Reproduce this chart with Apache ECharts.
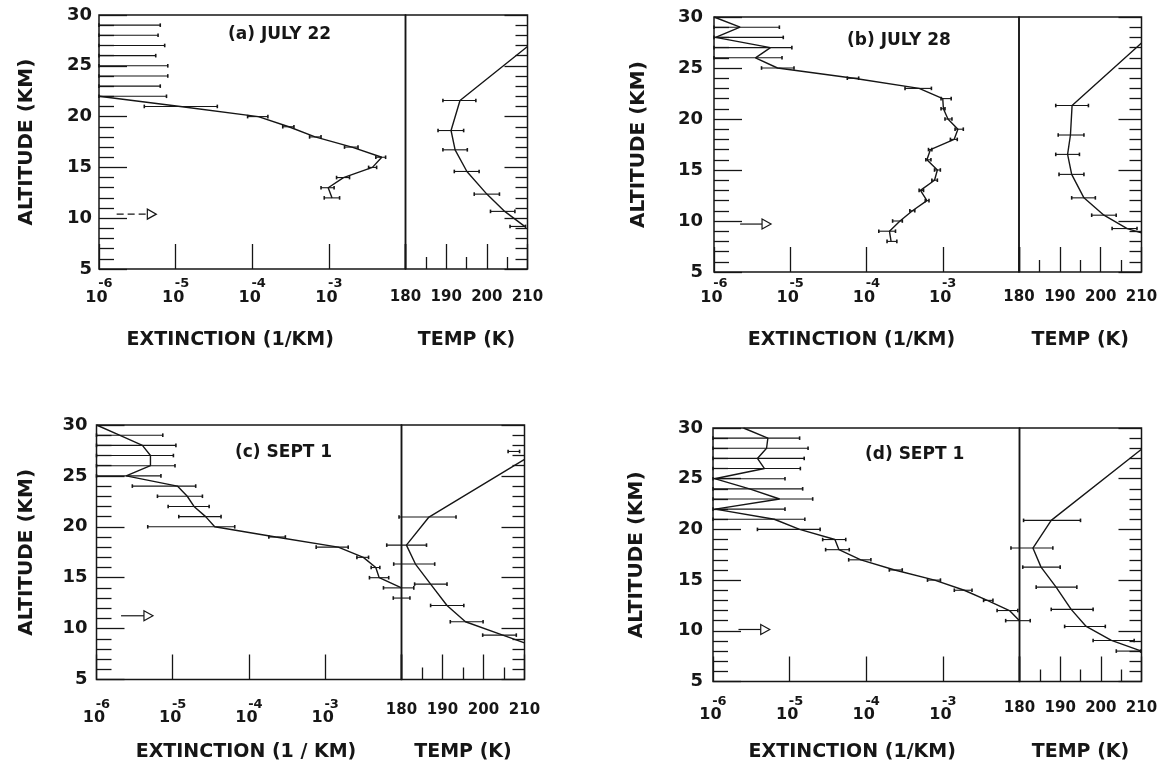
<!DOCTYPE html>
<html><head><meta charset="utf-8">
<script src="https://cdn.jsdelivr.net/npm/echarts@6/dist/echarts.min.js"></script>
<style>html,body{margin:0;padding:0;background:#fff}#c{width:1169px;height:767px}</style>
</head><body><div id="c"></div><script>
// ---------- tick labels ----------
const altitudeTicks = [5, 10, 15, 20, 25, 30];
const extinctionTickExponents = [-6, -5, -4, -3];
const temperatureTicks = [180, 190, 200, 210];

// ---------- panel texts ----------
const panelTitles = ['(a) JULY 22', '(b) JULY 28', '(c) SEPT 1', '(d) SEPT 1'];
const extinctionNames = ['EXTINCTION (1/KM)', 'EXTINCTION (1/KM)', 'EXTINCTION (1 / KM)', 'EXTINCTION (1/KM)'];
const temperatureName = 'TEMP (K)';
const altitudeName = 'ALTITUDE (KM)';

// ---------- panel (a) JULY 22 ----------
const aExtAlt = [29, 28, 27, 26, 25, 24, 23, 22, 21, 20, 19, 18, 17, 16, 15, 14, 13, 12];
const aExtVal = [null, null, null, null, null, null, null, 1.0e-6, 1.15e-5, 1.2e-4, 3.0e-4, 6.6e-4, 2.0e-3, 4.9e-3, 3.7e-3, 1.55e-3, 9.8e-4, 1.1e-3];
const aExtLo  = [null, null, null, null, null, null, null, null, 3.9e-6, 8.7e-5, 2.5e-4, 5.6e-4, 1.6e-3, 4.1e-3, 3.3e-3, 1.26e-3, 7.9e-4, 8.7e-4];
const aExtHi  = [6.3e-6, 5.9e-6, 7.2e-6, 5.5e-6, 7.9e-6, 7.9e-6, 6.3e-6, 7.6e-6, 3.5e-5, 1.6e-4, 3.5e-4, 7.9e-4, 2.4e-3, 5.5e-3, 4.2e-3, 1.86e-3, 1.17e-3, 1.38e-3];
const aTempAlt = [26.9, 21.58, 18.63, 16.73, 14.60, 12.37, 10.67, 9.19];
const aTempVal = [210, 193.4, 191.2, 192.2, 195.1, 200.0, 204.4, 209.3];
const aTempLo  = [null, 189.2, 188.0, 189.2, 192.0, 196.9, 200.9, 205.7];
const aTempHi  = [null, 197.3, 194.3, 195.2, 198.1, 203.1, 206.9, 209.5];
const aArrow = [1.7e-6, 5.6e-6, 10.4];

// ---------- panel (b) JULY 28 ----------
const bExtAlt = [30, 29, 28, 27, 26, 25, 24, 23, 22, 21, 20, 19, 18, 17, 16, 15, 14, 13, 12, 11, 10, 9, 8];
const bExtVal = [1.0e-6, 2.2e-6, 1.05e-6, 5.5e-6, 3.5e-6, 6.8e-6, 6.8e-5, 4.9e-4, 1.0e-3, 1.02e-3, 1.17e-3, 1.58e-3, 1.41e-3, 6.9e-4, 6.2e-4, 8.5e-4, 7.8e-4, 5.1e-4, 6.2e-4, 4.0e-4, 2.75e-4, 2.0e-4, 2.1e-4];
const bExtLo  = [null, null, null, null, null, 4.2e-6, 5.6e-5, 3.2e-4, 9.5e-4, 9.5e-4, 1.07e-3, 1.45e-3, 1.26e-3, 6.5e-4, 6.0e-4, 7.8e-4, 7.2e-4, 4.9e-4, 5.9e-4, 3.7e-4, 2.2e-4, 1.45e-4, 1.86e-4];
const bExtHi  = [null, 7.2e-6, 8.1e-6, 1.05e-5, 7.8e-6, 1.12e-5, 7.9e-5, 7.1e-4, 1.29e-3, 1.07e-3, 1.32e-3, 1.86e-3, 1.55e-3, 7.2e-4, 7.0e-4, 9.3e-4, 8.5e-4, 5.6e-4, 6.6e-4, 4.3e-4, 2.95e-4, 2.4e-4, 2.5e-4];
const bTempAlt = [27.45, 21.32, 18.43, 16.53, 14.57, 12.27, 10.57, 9.26, 8.83];
const bTempVal = [210, 193.0, 192.6, 191.9, 192.9, 195.9, 200.8, 206.5, 210];
const bTempLo  = [null, 189.0, 189.6, 189.0, 189.8, 192.9, 197.8, 202.8, null];
const bTempHi  = [null, 197.0, 195.9, 194.8, 195.9, 198.7, 203.8, 208.9, null];
const bArrow = [2.2e-6, 5.6e-6, 9.7];

// ---------- panel (c) SEPT 1 ----------
const cExtAlt = [30, 29, 28, 27, 26, 25, 24, 23, 22, 21, 20, 19, 18, 17, 16, 15, 14, 13];
const cExtVal = [1.0e-6, 2.0e-6, 4.0e-6, 5.1e-6, 5.1e-6, 2.45e-6, 1.15e-5, 1.55e-5, 1.9e-5, 2.7e-5, 3.55e-5, 2.24e-4, 1.48e-3, 3.16e-3, 4.6e-3, 5.1e-3, 1.0e-2, null];
const cExtLo  = [null, null, null, null, null, null, 2.95e-6, 6.3e-6, 8.7e-6, 1.2e-5, 4.7e-6, 1.82e-4, 7.6e-4, 2.6e-3, 4.0e-3, 3.8e-3, 5.8e-3, 7.8e-3];
const cExtHi  = [null, 7.4e-6, 1.1e-5, 1.02e-5, 1.07e-5, 7.0e-6, 2.0e-5, 2.45e-5, 3.0e-5, 4.3e-5, 6.5e-5, 3.0e-4, 2.0e-3, 3.7e-3, 5.2e-3, 6.8e-3, 1.45e-2, 1.29e-2];
const cTempAlt = [27.4, 26.63, 20.96, 18.20, 16.34, 14.37, 12.27, 10.67, 9.36, 8.6];
const cTempVal = [null, 210, 186.7, 181.2, 183.4, 187.1, 191.1, 195.6, 204.7, 210];
const cTempLo  = [206.0, null, 179.4, 176.4, 178.1, 183.2, 187.1, 191.9, 199.8, null];
const cTempHi  = [208.8, null, 193.3, 186.1, 188.1, 191.1, 195.2, 199.9, 208.0, null];
const cArrow = [2.1e-6, 5.5e-6, 11.26];

// ---------- panel (d) SEPT 1 ----------
const dExtAlt = [30, 29, 28, 27, 26, 25, 24, 23, 22, 21, 20, 19, 18, 17, 16, 15, 14, 13, 12, 11];
const dExtVal = [2.5e-6, 5.2e-6, 5.0e-6, 3.8e-6, 4.7e-6, 1.05e-6, 3.0e-6, 7.4e-6, 1.07e-6, 6.3e-6, 1.35e-5, 3.9e-5, 4.4e-5, 8.5e-5, 2.35e-4, 7.8e-4, 1.9e-3, 3.8e-3, 7.4e-3, 1.0e-2];
const dExtLo  = [null, null, null, null, null, null, null, null, null, null, 3.8e-6, 2.7e-5, 2.95e-5, 5.9e-5, 2.0e-4, 6.3e-4, 1.41e-3, 3.4e-3, 5.1e-3, 6.6e-3];
const dExtHi  = [null, 1.35e-5, 1.74e-5, 1.55e-5, 1.38e-5, 8.7e-6, 1.48e-5, 2.0e-5, 8.7e-6, 1.58e-5, 2.5e-5, 5.4e-5, 6.0e-5, 1.15e-4, 2.95e-4, 9.3e-4, 2.4e-3, 4.5e-3, 9.5e-3, 1.38e-2];
const dTempAlt = [27.9, 20.89, 18.16, 16.28, 14.31, 12.11, 10.43, 9.05, 8.0];
const dTempVal = [210, 187.8, 183.3, 185.3, 189.0, 192.7, 196.4, 202.6, 210];
const dTempLo  = [null, 181.0, 177.9, 180.8, 184.1, 187.8, 191.1, 198.1, 203.8];
const dTempHi  = [null, 195.0, 188.2, 190.0, 194.1, 198.1, 201.1, 208.2, 209.8];
const dArrow = [2.15e-6, 5.5e-6, 10.13];

// ---------- assembling ----------
const panelsData = [
  {extAlt: aExtAlt, extVal: aExtVal, extLo: aExtLo, extHi: aExtHi, tAlt: aTempAlt, tVal: aTempVal, tLo: aTempLo, tHi: aTempHi, arrow: aArrow},
  {extAlt: bExtAlt, extVal: bExtVal, extLo: bExtLo, extHi: bExtHi, tAlt: bTempAlt, tVal: bTempVal, tLo: bTempLo, tHi: bTempHi, arrow: bArrow},
  {extAlt: cExtAlt, extVal: cExtVal, extLo: cExtLo, extHi: cExtHi, tAlt: cTempAlt, tVal: cTempVal, tLo: cTempLo, tHi: cTempHi, arrow: cArrow},
  {extAlt: dExtAlt, extVal: dExtVal, extLo: dExtLo, extHi: dExtHi, tAlt: dTempAlt, tVal: dTempVal, tLo: dTempLo, tHi: dTempHi, arrow: dArrow}
];

// layout (pixels) – kept apart from data
const layouts = [
  {ext: {left: 99, top: 15, width: 306.5, height: 254}, temp: {left: 405.5, top: 15, width: 122, height: 254},
   yLabelMargin: 7, yNameGap: 62, extLabelMargin: 10, tempLabelMargin: 21, xNameGap: 61.5, extNameShift: 44, title: {left: 228, top: 26.5}, dashArrow: true},
  {ext: {left: 714, top: 17, width: 305, height: 255}, temp: {left: 1019, top: 17, width: 122.5, height: 255},
   yLabelMargin: 11, yNameGap: 65, extLabelMargin: 7, tempLabelMargin: 18, xNameGap: 59, extNameShift: 30, title: {left: 847, top: 32.5}},
  {ext: {left: 96.5, top: 425, width: 305, height: 254.5}, temp: {left: 401.5, top: 425, width: 123, height: 254.5},
   yLabelMargin: 9, yNameGap: 60, extLabelMargin: 20, tempLabelMargin: 23, xNameGap: 63, extNameShift: 6, title: {left: 235, top: 444.5}},
  {ext: {left: 713, top: 428, width: 306.5, height: 253.5}, temp: {left: 1019.5, top: 428, width: 122, height: 253.5},
   yLabelMargin: 10, yNameGap: 66, extLabelMargin: 15, tempLabelMargin: 19, xNameGap: 61, extNameShift: 28, title: {left: 865, top: 446.5}}
];

const FONT = 'DejaVu Sans';
const INK = '#161616';
const EXT_MIN = 1e-6, EXT_MAX = 1e-2;
const T_MIN = 180, T_MAX = 210;

function errorBarRenderer(params, api) {
  const alt = api.value(2);
  const p0 = api.coord([api.value(0), alt]);
  const p1 = api.coord([api.value(1), alt]);
  const y = p0[1], c = 1.8;
  const st = {stroke: INK, lineWidth: 1.1, fill: null};
  return {type: 'group', children: [
    {type: 'line', shape: {x1: p0[0], y1: y, x2: p1[0], y2: y}, style: st},
    {type: 'line', shape: {x1: p0[0], y1: y - c, x2: p0[0], y2: y + c}, style: {stroke: INK, lineWidth: 1.6}},
    {type: 'line', shape: {x1: p1[0], y1: y - c, x2: p1[0], y2: y + c}, style: {stroke: INK, lineWidth: 1.6}}
  ]};
}
function makeArrowRenderer(dashed) {
  return function (params, api) {
    const alt = api.value(2);
    const p0 = api.coord([api.value(0), alt]);
    const p1 = api.coord([api.value(1), alt]);
    const L = 9, W = 5;
    return {type: 'group', children: [
      {type: 'line', shape: {x1: p0[0], y1: p0[1], x2: p1[0] - L, y2: p1[1]},
       style: {stroke: INK, lineWidth: 1.2, lineDash: dashed ? [7, 4] : null}},
      {type: 'polygon', shape: {points: [[p1[0] - L, p1[1] - W], [p1[0], p1[1]], [p1[0] - L, p1[1] + W]]},
       style: {fill: '#fff', stroke: INK, lineWidth: 1.2}}
    ]};
  };
}

const grid = [], xAxis = [], yAxis = [], series = [], title = [];
const tickStyle = {color: INK, width: 1.3};
const nameStyle = {fontFamily: FONT, fontWeight: 'bold', fontSize: 19, color: INK};

panelsData.forEach(function (d, p) {
  const L = layouts[p];
  const gE = 2 * p, gT = 2 * p + 1;
  [L.ext, L.temp].forEach(function (g) {
    grid.push(Object.assign({show: true, borderColor: INK, borderWidth: 1.5, backgroundColor: 'transparent',
      containLabel: false, outerBoundsMode: 'none'}, g));
  });
  // extinction x axis (log)
  xAxis.push({
    gridIndex: gE, type: 'log', logBase: 10, min: EXT_MIN, max: EXT_MAX, splitNumber: 4,
    axisLine: {show: false}, splitLine: {show: false},
    axisTick: {show: true, inside: true, length: 25, lineStyle: tickStyle},
    axisLabel: {
      show: true, margin: L.extLabelMargin, showMinLabel: true, showMaxLabel: true,
      formatter: function (v) {
        const e = Math.round(Math.log10(v));
        return extinctionTickExponents.indexOf(e) >= 0 ? '{s|' + e + '}\n{b|10}' : '';
      },
      rich: {
        s: {fontFamily: FONT, fontWeight: 'bold', fontSize: 13, lineHeight: 10, align: 'right', color: INK},
        b: {fontFamily: FONT, fontWeight: 'bold', fontSize: 16, lineHeight: 17, align: 'left', padding: [0, 5, 0, 0], color: INK}
      }
    },
    name: extinctionNames[p], nameLocation: 'middle', nameGap: L.xNameGap, nameMoveOverlap: false,
    nameTextStyle: Object.assign({padding: [0, L.extNameShift, 0, 0]}, nameStyle)
  });
  // temperature x axis
  xAxis.push({
    gridIndex: gT, type: 'value', min: T_MIN, max: T_MAX, interval: 10,
    axisLine: {show: false}, splitLine: {show: false},
    axisTick: {show: true, inside: true, length: 25, lineStyle: tickStyle},
    minorTick: {show: true, splitNumber: 2, length: 12, lineStyle: tickStyle},
    axisLabel: {show: true, margin: L.tempLabelMargin, showMinLabel: true, showMaxLabel: true,
      fontFamily: FONT, fontWeight: 'bold', fontSize: 15, color: INK,
      formatter: function (v) { return temperatureTicks.indexOf(v) >= 0 ? String(v) : ''; }},
    name: temperatureName, nameLocation: 'middle', nameGap: L.xNameGap, nameMoveOverlap: false,
    nameTextStyle: nameStyle
  });
  // altitude axis for extinction (left, labelled)
  yAxis.push({
    gridIndex: gE, type: 'value', min: 5, max: 30, interval: 5,
    axisLine: {show: false}, splitLine: {show: false},
    axisTick: {show: true, inside: true, length: 28, lineStyle: tickStyle},
    minorTick: {show: true, splitNumber: 5, length: 15, lineStyle: tickStyle},
    axisLabel: {show: true, margin: L.yLabelMargin, fontFamily: FONT, fontWeight: 'bold', fontSize: 18, color: INK,
      formatter: function (v) { return altitudeTicks.indexOf(v) >= 0 ? String(v) : ''; }},
    name: altitudeName, nameLocation: 'middle', nameRotate: 90, nameGap: L.yNameGap, nameMoveOverlap: false,
    nameTextStyle: Object.assign({}, nameStyle, {fontSize: 20})
  });
  // altitude axis for temperature (right, ticks only)
  yAxis.push({
    gridIndex: gT, type: 'value', min: 5, max: 30, interval: 5, position: 'right',
    axisLine: {show: false}, splitLine: {show: false},
    axisTick: {show: true, inside: true, length: 23, lineStyle: tickStyle},
    minorTick: {show: true, splitNumber: 5, length: 12, lineStyle: tickStyle},
    axisLabel: {show: false}
  });

  // extinction profile
  series.push({type: 'line', xAxisIndex: gE, yAxisIndex: gE, showSymbol: false, symbol: 'none', animation: false,
    lineStyle: {color: INK, width: 1.4}, connectNulls: false, z: 3,
    data: d.extAlt.map(function (a, i) { return [d.extVal[i], a]; })});
  // extinction error bars
  const extBars = [];
  d.extAlt.forEach(function (a, i) {
    if (d.extHi[i] != null) extBars.push([d.extLo[i] == null ? EXT_MIN : d.extLo[i], d.extHi[i], a]);
  });
  series.push({type: 'custom', xAxisIndex: gE, yAxisIndex: gE, renderItem: errorBarRenderer, animation: false,
    encode: {x: [0, 1], y: 2}, data: extBars, z: 4});
  // arrow
  series.push({type: 'custom', xAxisIndex: gE, yAxisIndex: gE, renderItem: makeArrowRenderer(!!L.dashArrow),
    animation: false, encode: {x: [0, 1], y: 2}, data: [d.arrow], z: 4});
  // temperature profile
  series.push({type: 'line', xAxisIndex: gT, yAxisIndex: gT, showSymbol: false, symbol: 'none', animation: false,
    lineStyle: {color: INK, width: 1.4}, connectNulls: false, z: 3,
    data: d.tAlt.map(function (a, i) { return [d.tVal[i], a]; })});
  const tBars = [];
  d.tAlt.forEach(function (a, i) {
    if (d.tLo[i] != null && d.tHi[i] != null) tBars.push([d.tLo[i], d.tHi[i], a]);
  });
  series.push({type: 'custom', xAxisIndex: gT, yAxisIndex: gT, renderItem: errorBarRenderer, animation: false,
    encode: {x: [0, 1], y: 2}, data: tBars, z: 4});

  title.push({text: panelTitles[p], left: L.title.left, top: L.title.top, padding: 0,
    textStyle: {fontFamily: FONT, fontWeight: 'bold', fontSize: 17, color: INK}});
});

const chart = echarts.init(document.getElementById('c'), null, {renderer: 'canvas'});
chart.setOption({
  animation: false,
  backgroundColor: '#fff',
  textStyle: {fontFamily: FONT},
  title: title, grid: grid, xAxis: xAxis, yAxis: yAxis, series: series
});
</script></body></html>
